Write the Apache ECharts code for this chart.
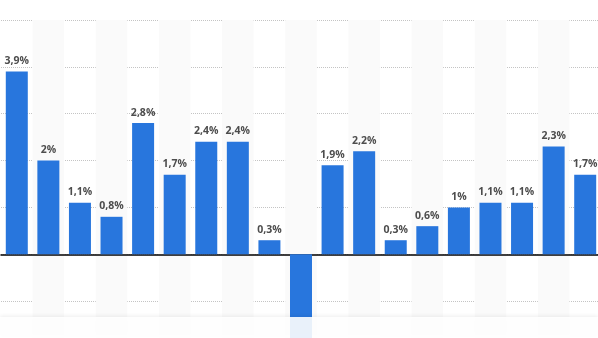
<!DOCTYPE html>
<html>
<head>
<meta charset="utf-8">
<script src="https://cdn.jsdelivr.net/npm/echarts@6/dist/echarts.min.js"></script>
<style>html,body{margin:0;padding:0;background:#fff;}#c{width:598px;height:338px;}</style>
</head>
<body>
<div id="c"></div>
<script>
const categories = ['2004','2005','2006','2007','2008','2009','2010','2011','2012','2013','2014','2015','2016','2017','2018','2019','2020','2021','2022'];
const values = [3.9, 2, 1.1, 0.8, 2.8, 1.7, 2.4, 2.4, 0.3, -1.9, 1.9, 2.2, 0.3, 0.6, 1, 1.1, 1.1, 2.3, 1.7];

const chart = echarts.init(document.getElementById('c'), null, {renderer: 'canvas'});
chart.setOption({
  animation: false,
  backgroundColor: '#fff',
  grid: {left: 1, top: 20, width: 600, height: 328, outerBoundsMode: 'none', containLabel: false},
  xAxis: {
    type: 'category',
    data: categories,
    axisLine: {show: true, onZero: true, lineStyle: {color: '#000', width: 1.5}},
    axisTick: {show: false},
    axisLabel: {show: false, interval: 0},
    splitArea: {show: true, interval: 0, areaStyle: {color: ['rgba(255,255,255,0)', '#fafafa']}}
  },
  yAxis: {
    type: 'value',
    min: -2, max: 5, interval: 1,
    axisLine: {show: false},
    axisTick: {show: false},
    axisLabel: {show: false},
    splitLine: {show: true, lineStyle: {color: '#c4c4c4', type: [1, 1], width: 1}}
  },
  series: [{
    type: 'bar',
    barWidth: 22,
    itemStyle: {color: '#2876dd'},
    data: values.map(v => v < 0 ? {value: v, label: {position: 'bottom'}} : v),
    label: {
      show: true,
      position: 'top',
      distance: 5,
      color: '#4d4d4d',
      fontFamily: 'Open Sans',
      fontWeight: 'bold',
      fontSize: 10.5,
      formatter: p => String(p.value).replace('.', ',') + '%'
    }
  }],
  graphic: [{
    type: 'rect',
    left: 0,
    top: 317,
    shape: {width: 598, height: 21},
    style: {fill: 'rgba(255,255,255,0.9)', shadowBlur: 4, shadowColor: 'rgba(0,0,0,0.08)', shadowOffsetY: -1},
    z: 100
  }]
});
</script>
</body>
</html>
